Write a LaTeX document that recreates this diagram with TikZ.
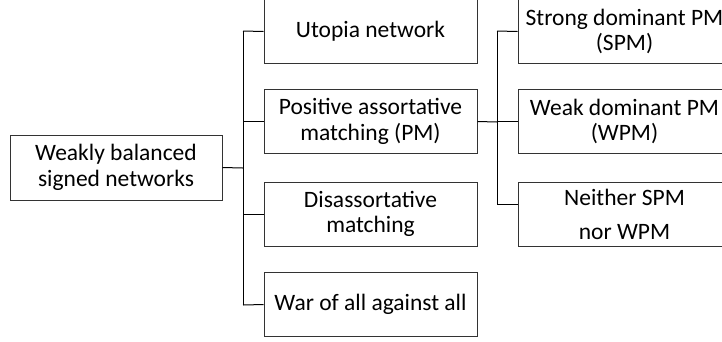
\documentclass[tikz,border=0pt]{standalone}
\usepackage{fontspec}
\setmainfont{Carlito}
\begin{document}
\begin{tikzpicture}[x=1pt,y=-1pt,
  box/.style={draw=black!80,line width=1pt,fill=white,minimum width=213pt,minimum height=64pt,inner sep=0pt,align=center,font=\fontsize{23.5}{25.5}\selectfont},
  conn/.style={draw=black,line width=1pt}]
\clip (0,0) rectangle (722,341);
\fill[white] (0,0) rectangle (722,341);
% left
\node[box,minimum width=212pt,minimum height=65pt] (W) at (116,167.5) {Weakly balanced\\signed networks};
% middle
\node[box] (U) at (370.5,31.5) {Utopia network};
\node[box] (P) at (370.5,121.5) {Positive assortative\\matching (PM)};
\node[box] (D) at (370.5,214) {Disassortative\\matching};
\node[box] (A) at (370.5,304.5) {War of all against all};
% right
\node[box] (S) at (624.5,31.5) {Strong dominant PM\\(SPM)};
\node[box] (K) at (624.5,121.5) {Weak dominant PM\\(WPM)};
\node[box] (N) at (624.5,214.5) {Neither SPM\\[9pt]nor WPM};
% junctions
\coordinate (j1) at (243,168);
\coordinate (j1t) at (243,31);
\coordinate (j1b) at (243,305);
\coordinate (j2) at (497,122);
\coordinate (j2t) at (497,31);
\coordinate (j2b) at (497,204);
\draw[conn] (W.east) -- (j1);
\draw[conn] (j1t) -- (j1b);
\draw[conn] (j1t) -- (U.west);
\draw[conn] (P.west -| j1) -- (P.west);
\draw[conn] (D.west -| j1) -- (D.west);
\draw[conn] (j1b) -- (A.west);
\draw[conn] (P.east) -- (j2);
\draw[conn] (j2t) -- (j2b);
\draw[conn] (j2t) -- (S.west);
\draw[conn] (K.west -| j2) -- (K.west);
\draw[conn] (j2b) -- (j2b -| N.west);
\end{tikzpicture}
\end{document}
